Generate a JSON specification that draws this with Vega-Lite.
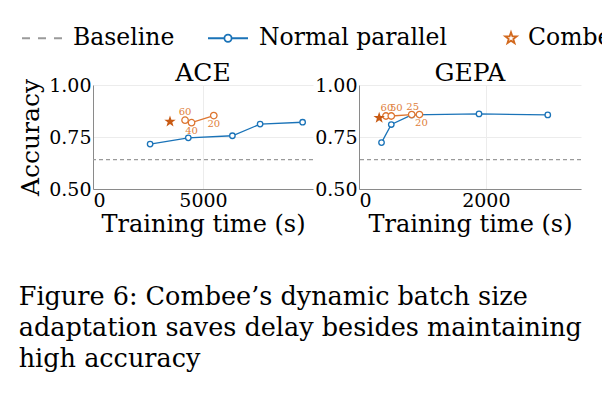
{
  "$schema": "https://vega.github.io/schema/vega-lite/v6.json",
  "background": "white",
  "padding": {"left": 18, "top": 17, "right": 2, "bottom": 2},
  "datasets": {
    "ref_line": [
      {"panel": "ACE", "accuracy": 0.641},
      {"panel": "GEPA", "accuracy": 0.641}
    ],
    "parallel_runs": [
      {"panel": "ACE", "time": 2596, "accuracy": 0.716},
      {"panel": "ACE", "time": 4332, "accuracy": 0.746},
      {"panel": "ACE", "time": 6336, "accuracy": 0.756},
      {"panel": "ACE", "time": 7596, "accuracy": 0.812},
      {"panel": "ACE", "time": 9528, "accuracy": 0.821},
      {"panel": "GEPA", "time": 355, "accuracy": 0.723},
      {"panel": "GEPA", "time": 509, "accuracy": 0.810},
      {"panel": "GEPA", "time": 831, "accuracy": 0.856},
      {"panel": "GEPA", "time": 1892, "accuracy": 0.861},
      {"panel": "GEPA", "time": 2976, "accuracy": 0.856}
    ],
    "fixed_batch": [
      {"panel": "ACE", "batch": 60, "time": 4185, "accuracy": 0.831},
      {"panel": "ACE", "batch": 40, "time": 4479, "accuracy": 0.819},
      {"panel": "ACE", "batch": 20, "time": 5490, "accuracy": 0.853},
      {"panel": "GEPA", "batch": 60, "time": 425, "accuracy": 0.851},
      {"panel": "GEPA", "batch": 50, "time": 509, "accuracy": 0.851},
      {"panel": "GEPA", "batch": 25, "time": 831, "accuracy": 0.858},
      {"panel": "GEPA", "batch": 20, "time": 953, "accuracy": 0.858}
    ],
    "dynamic_batch": [
      {"panel": "ACE", "time": 3500, "accuracy": 0.824},
      {"panel": "GEPA", "time": 318, "accuracy": 0.842}
    ],
    "series": [
      {"method": "Baseline"},
      {"method": "Normal parallel"},
      {"method": "Combee"}
    ]
  },
  "title": {
    "text": [
      "Figure 6:  Combee’s dynamic batch size",
      "adaptation saves delay besides maintaining",
      "high accuracy"
    ],
    "orient": "bottom",
    "anchor": "start",
    "frame": "bounds",
    "font": "DejaVu Serif",
    "fontSize": 25.5,
    "fontWeight": "normal",
    "color": "black",
    "lineHeight": 31,
    "offset": 49
  },
  "spacing": 0,
  "hconcat": [
    {
      "width": 220,
      "height": 104,
      "title": {"text": "ACE", "anchor": "middle", "frame": "group", "offset": -9.5},
      "layer": [
        {
          "data": {"name": "ref_line"},
          "transform": [{"filter": "datum.panel === 'ACE'"}],
          "mark": {"type": "rule", "color": "#9a9a9a", "strokeDash": [4, 3], "strokeWidth": 1.2},
          "encoding": {
            "y": {"field": "accuracy", "type": "quantitative", "scale": {"domain": [0.5, 1.0]}, "axis": {"values": [0.5, 0.75, 1.0], "format": ".2f"}, "title": "Accuracy"}
          }
        },
        {
          "data": {"name": "parallel_runs"},
          "transform": [{"filter": "datum.panel === 'ACE'"}],
          "mark": {"type": "line", "color": "#1a73b8", "strokeWidth": 1.3},
          "encoding": {
            "x": {"field": "time", "type": "quantitative", "scale": {"domain": [0, 9780]}, "axis": {"values": [0, 5000], "format": "d"}, "title": "Training time (s)"},
            "y": {"field": "accuracy", "type": "quantitative"}
          }
        },
        {
          "data": {"name": "parallel_runs"},
          "transform": [{"filter": "datum.panel === 'ACE'"}],
          "mark": {"type": "point", "filled": true, "fill": "white", "stroke": "#1a73b8", "strokeWidth": 1.3, "size": 30, "opacity": 1},
          "encoding": {
            "x": {"field": "time", "type": "quantitative"},
            "y": {"field": "accuracy", "type": "quantitative"}
          }
        },
        {
          "data": {"name": "fixed_batch"},
          "transform": [{"filter": "datum.panel === 'ACE'"}],
          "mark": {"type": "line", "color": "#dd7530", "strokeWidth": 1.3},
          "encoding": {
            "x": {"field": "time", "type": "quantitative"},
            "y": {"field": "accuracy", "type": "quantitative"}
          }
        },
        {
          "data": {"name": "fixed_batch"},
          "transform": [{"filter": "datum.panel === 'ACE'"}],
          "mark": {"type": "point", "filled": true, "fill": "white", "stroke": "#dd7530", "strokeWidth": 1.3, "size": 42, "opacity": 1},
          "encoding": {
            "x": {"field": "time", "type": "quantitative"},
            "y": {"field": "accuracy", "type": "quantitative"}
          }
        },
        {
          "data": {"name": "fixed_batch"},
          "transform": [{"filter": "datum.panel === 'ACE' && datum.batch == 60"}],
          "mark": {"type": "text", "font": "DejaVu Serif", "fontSize": 10, "color": "#e0803a", "dy": -8},
          "encoding": {
            "x": {"field": "time", "type": "quantitative"},
            "y": {"field": "accuracy", "type": "quantitative"},
            "text": {"field": "batch", "type": "nominal"}
          }
        },
        {
          "data": {"name": "fixed_batch"},
          "transform": [{"filter": "datum.panel === 'ACE' && datum.batch != 60"}],
          "mark": {"type": "text", "font": "DejaVu Serif", "fontSize": 10, "color": "#e0803a", "dy": 8},
          "encoding": {
            "x": {"field": "time", "type": "quantitative"},
            "y": {"field": "accuracy", "type": "quantitative"},
            "text": {"field": "batch", "type": "nominal"}
          }
        },
        {
          "data": {"name": "dynamic_batch"},
          "transform": [{"filter": "datum.panel === 'ACE'"}],
          "mark": {"type": "point", "shape": "M0,-1L0.2351,-0.3236L0.9511,-0.309L0.3804,0.1236L0.5878,0.809L0,0.4L-0.5878,0.809L-0.3804,0.1236L-0.9511,-0.309L-0.2351,-0.3236Z", "filled": true, "color": "#c85a13", "size": 144, "opacity": 1},
          "encoding": {
            "x": {"field": "time", "type": "quantitative"},
            "y": {"field": "accuracy", "type": "quantitative"}
          }
        },
        {
          "data": {"name": "series"},
          "mark": {"type": "point", "opacity": 0},
          "encoding": {
            "color": {
              "field": "method",
              "type": "nominal",
              "scale": {
                "domain": ["Baseline", "Normal parallel", "Combee"],
                "range": ["#9a9a9a", "#1a73b8", "#d2691e"]
              },
              "legend": {
                "orient": "none",
                "legendX": -72,
                "legendY": -68,
                "direction": "horizontal",
                "title": null,
                "symbolSize": 1600,
                "symbolStrokeWidth": 1.8,
                "labelFont": "DejaVu Serif",
                "labelFontSize": 23.5,
                "labelColor": "black",
                "labelLimit": 400,
                "labelOffset": 10,
                "columnPadding": 29,
                "padding": 0,
                "encode": {
                  "symbols": {
                    "update": {
                      "fill": {"signal": "datum.value === 'Combee' ? '#d2691e' : (datum.value === 'Normal parallel' ? '#ffffff' : 'transparent')"},
                      "strokeWidth": {"signal": "datum.value === 'Combee' ? 0.5 : 1.8"},
                      "opacity": {"value": 1}
                    }
                  }
                }
              }
            },
            "shape": {
              "field": "method",
              "type": "nominal",
              "scale": {
                "domain": ["Baseline", "Normal parallel", "Combee"],
                "range": [
                  "M-1,0H-0.6M-0.2,0H0.2M0.6,0H1",
                  "M-1,0H-0.18M0.18,0H1M-0.18,0A0.18,0.18 0 1,1 0.18,0A0.18,0.18 0 1,1 -0.18,0Z",
                  "M0.7,-0.3L0.7705,-0.0971L0.9853,-0.0927L0.8141,0.0371L0.8763,0.2427L0.7,0.12L0.5237,0.2427L0.5859,0.0371L0.4147,-0.0927L0.6295,-0.0971Z"
                ]
              },
              "legend": {"orient": "none", "legendX": -72, "legendY": -68, "direction": "horizontal", "title": null}
            }
          }
        }
      ]
    },
    {
      "width": 222,
      "height": 104,
      "title": {"text": "GEPA", "anchor": "middle", "frame": "group", "offset": -9.5},
      "layer": [
        {
          "data": {"name": "ref_line"},
          "transform": [{"filter": "datum.panel === 'GEPA'"}],
          "mark": {"type": "rule", "color": "#9a9a9a", "strokeDash": [4, 3], "strokeWidth": 1.2},
          "encoding": {
            "y": {"field": "accuracy", "type": "quantitative", "scale": {"domain": [0.5, 1.0]}, "axis": {"values": [0.5, 0.75, 1.0], "format": ".2f"}, "title": null}
          }
        },
        {
          "data": {"name": "parallel_runs"},
          "transform": [{"filter": "datum.panel === 'GEPA'"}],
          "mark": {"type": "line", "color": "#1a73b8", "strokeWidth": 1.3},
          "encoding": {
            "x": {"field": "time", "type": "quantitative", "scale": {"domain": [0, 3107]}, "axis": {"values": [0, 2000], "format": "d"}, "title": "Training time (s)"},
            "y": {"field": "accuracy", "type": "quantitative"}
          }
        },
        {
          "data": {"name": "parallel_runs"},
          "transform": [{"filter": "datum.panel === 'GEPA'"}],
          "mark": {"type": "point", "filled": true, "fill": "white", "stroke": "#1a73b8", "strokeWidth": 1.3, "size": 30, "opacity": 1},
          "encoding": {
            "x": {"field": "time", "type": "quantitative"},
            "y": {"field": "accuracy", "type": "quantitative"}
          }
        },
        {
          "data": {"name": "fixed_batch"},
          "transform": [{"filter": "datum.panel === 'GEPA'"}],
          "mark": {"type": "line", "color": "#dd7530", "strokeWidth": 1.3},
          "encoding": {
            "x": {"field": "time", "type": "quantitative"},
            "y": {"field": "accuracy", "type": "quantitative"}
          }
        },
        {
          "data": {"name": "fixed_batch"},
          "transform": [{"filter": "datum.panel === 'GEPA'"}],
          "mark": {"type": "point", "filled": true, "fill": "white", "stroke": "#dd7530", "strokeWidth": 1.3, "size": 42, "opacity": 1},
          "encoding": {
            "x": {"field": "time", "type": "quantitative"},
            "y": {"field": "accuracy", "type": "quantitative"}
          }
        },
        {
          "data": {"name": "fixed_batch"},
          "transform": [{"filter": "datum.panel === 'GEPA' && (datum.batch == 60 || datum.batch == 25)"}],
          "mark": {"type": "text", "font": "DejaVu Serif", "fontSize": 10, "color": "#e0803a", "dy": -8, "dx": 1},
          "encoding": {
            "x": {"field": "time", "type": "quantitative"},
            "y": {"field": "accuracy", "type": "quantitative"},
            "text": {"field": "batch", "type": "nominal"}
          }
        },
        {
          "data": {"name": "fixed_batch"},
          "transform": [{"filter": "datum.panel === 'GEPA' && datum.batch == 50"}],
          "mark": {"type": "text", "font": "DejaVu Serif", "fontSize": 10, "color": "#e0803a", "dy": -8, "dx": 5},
          "encoding": {
            "x": {"field": "time", "type": "quantitative"},
            "y": {"field": "accuracy", "type": "quantitative"},
            "text": {"field": "batch", "type": "nominal"}
          }
        },
        {
          "data": {"name": "fixed_batch"},
          "transform": [{"filter": "datum.panel === 'GEPA' && datum.batch == 20"}],
          "mark": {"type": "text", "font": "DejaVu Serif", "fontSize": 10, "color": "#e0803a", "dy": 8, "dx": 2},
          "encoding": {
            "x": {"field": "time", "type": "quantitative"},
            "y": {"field": "accuracy", "type": "quantitative"},
            "text": {"field": "batch", "type": "nominal"}
          }
        },
        {
          "data": {"name": "dynamic_batch"},
          "transform": [{"filter": "datum.panel === 'GEPA'"}],
          "mark": {"type": "point", "shape": "M0,-1L0.2351,-0.3236L0.9511,-0.309L0.3804,0.1236L0.5878,0.809L0,0.4L-0.5878,0.809L-0.3804,0.1236L-0.9511,-0.309L-0.2351,-0.3236Z", "filled": true, "color": "#c85a13", "size": 144, "opacity": 1},
          "encoding": {
            "x": {"field": "time", "type": "quantitative"},
            "y": {"field": "accuracy", "type": "quantitative"}
          }
        }
      ]
    }
  ],
  "config": {
    "view": {"stroke": null},
    "axis": {
      "domainColor": "#8a8a8a",
      "tickSize": 0,
      "gridColor": "#ececec",
      "labelFont": "DejaVu Serif",
      "labelFontSize": 19,
      "labelColor": "black",
      "labelPadding": 2,
      "titleFont": "DejaVu Serif",
      "titleFontWeight": "normal",
      "titleColor": "black"
    },
    "axisX": {"titleFontSize": 24, "titlePadding": 2},
    "axisY": {"titleFontSize": 25, "titlePadding": 5},
    "title": {
      "font": "DejaVu Serif",
      "fontSize": 25,
      "fontWeight": "normal",
      "color": "black"
    }
  }
}
